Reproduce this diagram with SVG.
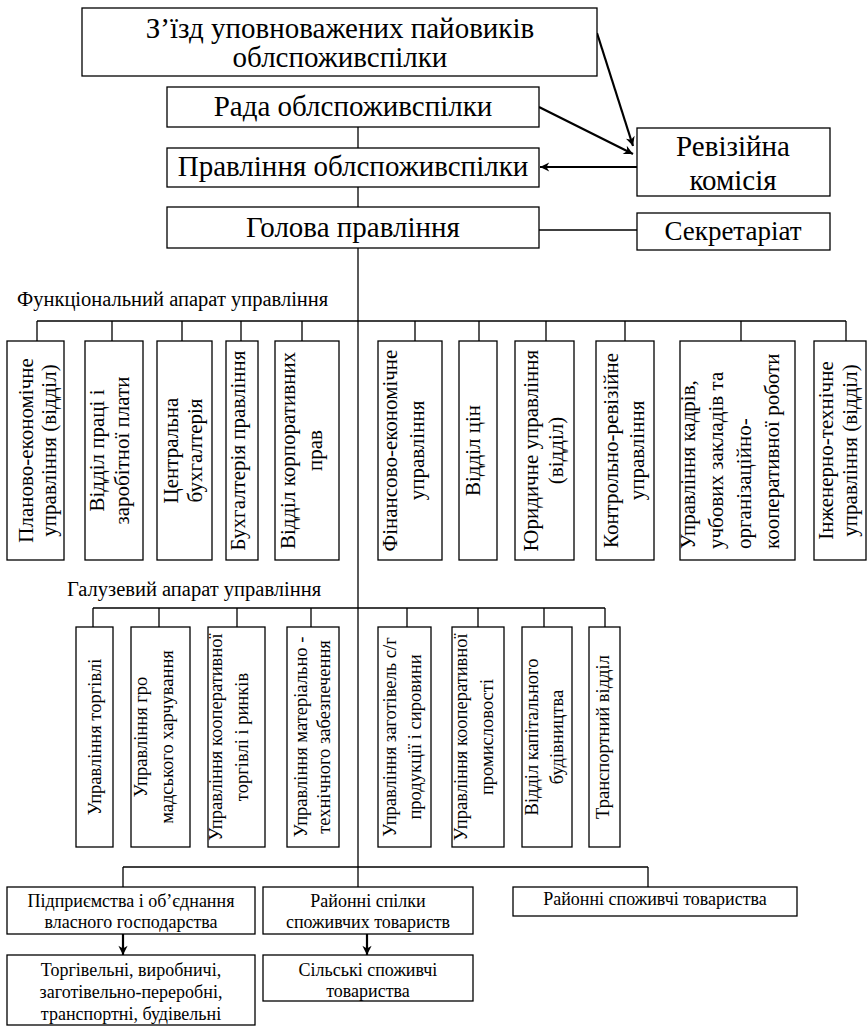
<svg xmlns="http://www.w3.org/2000/svg" width="868" height="1028" viewBox="0 0 868 1028">
<style>
.box{fill:#fff;stroke:#000;stroke-width:1.3}
.ln{fill:none;stroke:#000;stroke-width:1.3}
.ar{fill:none;stroke:#000;stroke-width:2.2}
text{font-family:"Liberation Serif","Times New Roman",serif;fill:#000}
.t29{font-size:29px;text-anchor:middle}
.lbl{font-size:20.5px}
.v21{font-size:21px;text-anchor:middle}
.v21s{font-size:21px;text-anchor:start}
.v18{font-size:18.5px;text-anchor:middle}
.b18{font-size:18px;text-anchor:middle}
</style>
<defs>
<marker id="ah" viewBox="0 0 10 10" refX="10" refY="5" markerWidth="5" markerHeight="4.2" orient="auto" markerUnits="strokeWidth">
<path d="M0,0 L10,5 L0,10 L3,5 Z" fill="#000"/>
</marker>
</defs>
<rect width="868" height="1028" fill="#fff"/>

<g id="connectors">
<line class="ln" x1="358" y1="127" x2="358" y2="148"/>
<line class="ln" x1="358" y1="187" x2="358" y2="207"/>
<line class="ln" x1="358" y1="248" x2="358" y2="887"/>
<line class="ln" x1="539" y1="230" x2="637" y2="230"/>
<line class="ar" x1="597" y1="33" x2="633" y2="146" marker-end="url(#ah)"/>
<line class="ar" x1="539" y1="107" x2="633" y2="154" marker-end="url(#ah)"/>
<line class="ar" x1="637" y1="167" x2="540" y2="167" marker-end="url(#ah)"/>
<line class="ln" x1="37" y1="321" x2="846" y2="321"/>
<path class="ln" d="M37,321V341 M112,321V341 M182,321V341 M241,321V341 M302,321V341 M415,321V341 M479,321V341 M546,321V341 M625,321V341 M741,321V341 M846,321V341"/>
<line class="ln" x1="93" y1="608" x2="605" y2="608"/>
<path class="ln" d="M93,608V627 M159,608V627 M237,608V627 M311,608V627 M407,608V627 M478,608V627 M544,608V627 M605,608V627"/>
<line class="ln" x1="123" y1="867" x2="648" y2="867"/>
<path class="ln" d="M123,867V887 M648,867V887"/>
<line class="ar" x1="123" y1="934" x2="123" y2="955" marker-end="url(#ah)"/>
<line class="ar" x1="367" y1="934" x2="367" y2="955" marker-end="url(#ah)"/>
</g>

<g id="n-zizd"><rect class="box" x="82" y="8" width="515" height="68"/>
<text class="t29" x="340" y="38">З’їзд уповноважених пайовиків</text>
<text class="t29" x="340" y="67">облспоживспілки</text></g>
<g id="n-rada"><rect class="box" x="167" y="87" width="372" height="40"/>
<text class="t29" x="353" y="116">Рада облспоживспілки</text></g>
<g id="n-pravl"><rect class="box" x="167" y="148" width="372" height="39"/>
<text class="t29" x="353" y="176">Правління облспоживспілки</text></g>
<g id="n-holova"><rect class="box" x="167" y="207" width="372" height="41"/>
<text class="t29" x="353" y="237">Голова правління</text></g>
<g id="n-reviz"><rect class="box" x="637" y="128" width="193" height="68"/>
<text class="t29" x="733" y="156">Ревізійна</text>
<text class="t29" x="733" y="190">комісія</text></g>
<g id="n-sekr"><rect class="box" x="637" y="213" width="193" height="37"/>
<text class="t29" x="733" y="240" style="font-size:27px">Секретаріат</text></g>

<text id="lbl-func" class="lbl" x="17" y="306">Функціональний апарат управління</text>
<text id="lbl-gal" class="lbl" x="67" y="596">Галузевий апарат управління</text>

<g id="f1"><rect class="box" x="7" y="341" width="57" height="219"/>
<text class="v21" transform="translate(33,450.5) rotate(-90)">Планово-економічне</text>
<text class="v21" transform="translate(56,450.5) rotate(-90)">управління (відділ)</text></g>
<g id="f2"><rect class="box" x="85" y="341" width="58" height="219"/>
<text class="v21" transform="translate(104,450.5) rotate(-90)">Відділ праці і</text>
<text class="v21" transform="translate(129,450.5) rotate(-90)">заробітної плати</text></g>
<g id="f3"><rect class="box" x="157" y="341" width="55" height="219"/>
<text class="v21" transform="translate(178,450.5) rotate(-90)">Центральна</text>
<text class="v21" transform="translate(202,450.5) rotate(-90)">бухгалтерія</text></g>
<g id="f4"><rect class="box" x="226" y="341" width="32" height="219"/>
<text class="v21" transform="translate(245,450.5) rotate(-90)">Бухгалтерія правління</text></g>
<g id="f5"><rect class="box" x="275" y="341" width="64" height="219"/>
<text class="v21" transform="translate(295,450.5) rotate(-90)">Відділ корпоративних</text>
<text class="v21" transform="translate(322,450.5) rotate(-90)">прав</text></g>
<g id="f6"><rect class="box" x="378" y="341" width="64" height="219"/>
<text class="v21" transform="translate(397,450.5) rotate(-90)">Фінансово-економічне</text>
<text class="v21" transform="translate(424,450.5) rotate(-90)">управління</text></g>
<g id="f7"><rect class="box" x="459" y="341" width="38" height="219"/>
<text class="v21" transform="translate(480,450.5) rotate(-90)">Відділ цін</text></g>
<g id="f8"><rect class="box" x="515" y="341" width="59" height="219"/>
<text class="v21" transform="translate(538,450.5) rotate(-90)">Юридичне управління</text>
<text class="v21" transform="translate(563,450.5) rotate(-90)">(відділ)</text></g>
<g id="f9"><rect class="box" x="596" y="341" width="58" height="219"/>
<text class="v21" transform="translate(618,450.5) rotate(-90)">Контрольно-ревізійне</text>
<text class="v21" transform="translate(644,450.5) rotate(-90)">управління</text></g>
<g id="f10"><rect class="box" x="680" y="341" width="115" height="219"/>
<text class="v21s" transform="translate(695,549) rotate(-90)">Управління  кадрів,</text>
<text class="v21s" transform="translate(723,549) rotate(-90)">учбових закладів та</text>
<text class="v21s" transform="translate(751,549) rotate(-90)">організаційно-</text>
<text class="v21s" transform="translate(779,549) rotate(-90)">кооперативної роботи</text></g>
<g id="f11"><rect class="box" x="814" y="341" width="52" height="219"/>
<text class="v21" transform="translate(833,450.5) rotate(-90)">Інженерно-технічне</text>
<text class="v21" transform="translate(857,450.5) rotate(-90)">управління (відділ)</text></g>

<g id="g1"><rect class="box" x="76" y="627" width="37" height="220"/>
<text class="v18" transform="translate(101,737) rotate(-90)">Управління торгівлі</text></g>
<g id="g2"><rect class="box" x="131" y="627" width="59" height="220"/>
<text class="v18" transform="translate(147,737) rotate(-90)">Управління гро</text>
<text class="v18" transform="translate(173,737) rotate(-90)">мадського харчування</text></g>
<g id="g3"><rect class="box" x="208" y="627" width="57" height="220"/>
<text class="v18" transform="translate(222,737) rotate(-90)">Управління кооперативної</text>
<text class="v18" transform="translate(248,737) rotate(-90)">торгівлі і ринків</text></g>
<g id="g4"><rect class="box" x="287" y="627" width="52" height="220"/>
<text class="v18" transform="translate(307,737) rotate(-90)">Управління матеріально -</text>
<text class="v18" transform="translate(330,737) rotate(-90)">технічного забезпечення</text></g>
<g id="g5"><rect class="box" x="378" y="627" width="53" height="220"/>
<text class="v18" transform="translate(396,737) rotate(-90)">Управління заготівель с/г</text>
<text class="v18" transform="translate(421,737) rotate(-90)">продукції і сировини</text></g>
<g id="g6"><rect class="box" x="452" y="627" width="52" height="220"/>
<text class="v18" transform="translate(467,737) rotate(-90)">Управління кооперативної</text>
<text class="v18" transform="translate(493,737) rotate(-90)">промисловості</text></g>
<g id="g7"><rect class="box" x="522" y="627" width="50" height="220"/>
<text class="v18" transform="translate(538,737) rotate(-90)">Відділ капітального</text>
<text class="v18" transform="translate(563,737) rotate(-90)">будівництва</text></g>
<g id="g8"><rect class="box" x="589" y="627" width="31" height="220"/>
<text class="v18" transform="translate(609,737) rotate(-90)">Транспортний відділ</text></g>

<g id="n-pidpr"><rect class="box" x="7" y="887" width="248" height="47"/>
<text class="b18" x="131" y="907">Підприємства і об’єднання</text>
<text class="b18" x="131" y="928">власного господарства</text></g>
<g id="n-rsst"><rect class="box" x="263" y="887" width="210" height="47"/>
<text class="b18" x="368" y="907">Районні спілки</text>
<text class="b18" x="368" y="928">споживчих товариств</text></g>
<g id="n-rst"><rect class="box" x="513" y="887" width="284" height="29"/>
<text class="b18" x="655" y="905">Районні споживчі товариства</text></g>
<g id="n-torg"><rect class="box" x="7" y="955" width="248" height="70"/>
<text class="b18" x="131" y="976">Торгівельні, виробничі,</text>
<text class="b18" x="131" y="998">заготівельно-переробні,</text>
<text class="b18" x="131" y="1020">транспортні, будівельні</text></g>
<g id="n-silski"><rect class="box" x="263" y="955" width="210" height="46"/>
<text class="b18" x="368" y="976">Сільські споживчі</text>
<text class="b18" x="368" y="997">товариства</text></g>
</svg>
